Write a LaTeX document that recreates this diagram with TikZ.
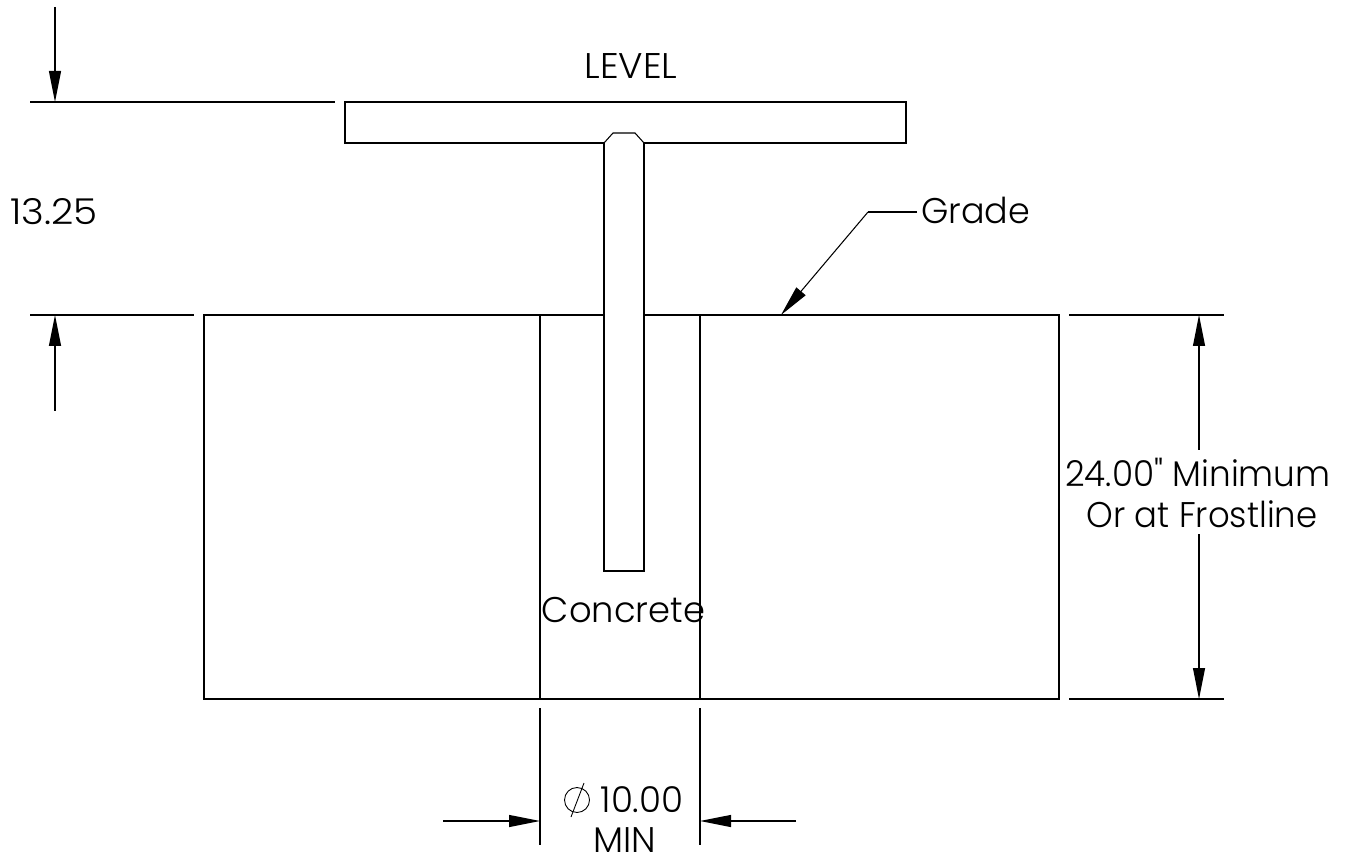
\documentclass[tikz,border=0pt]{standalone}
\usepackage{graphicx}
\usepackage{fontspec}
\setmainfont{Poppins}[UprightFont={* Light}]
\newfontfamily\plainfont{Poppins}[UprightFont={* Light}]
\usetikzlibrary{arrows.meta}
\tikzset{
  x=0.02cm,y=-0.02cm,
  edge/.style={draw=black,line width=0.6pt},
  dimline/.style={draw=black,line width=0.6pt},
  dimarrow/.style={draw=black,line width=0.6pt,-{Triangle[length=0.62cm,width=0.24cm]}},
  label/.style={inner sep=0pt,font=\fontsize{20.3}{24}\selectfont,text=black},
  diasym/.style={circle,draw=black,line width=0.5pt,minimum size=0.5cm,inner sep=0pt}
}
\begin{document}
\begin{tikzpicture}
\useasboundingbox (0,0) rectangle (1351,857);
% plate and stem
\draw[edge] (604,143) -- (345,143) -- (345,102) -- (906,102) -- (906,143) -- (644,143);
\draw[edge] (604,143) -- (613,133) -- (635,133) -- (644,143);
\draw[edge] (604,143) -- (604,571) -- (644,571) -- (644,143);
% ground
\draw[edge] (604,315) -- (204,315) -- (204,699) -- (1059,699) -- (1059,315) -- (644,315);
\draw[edge] (540,315) -- (540,699);
\draw[edge] (700,315) -- (700,699);
% dimension coordinates
\coordinate (la) at (30,102); \coordinate (lb) at (335,102);
\coordinate (ga) at (30,315); \coordinate (gb) at (194,315);
\coordinate (at) at (55,7); \coordinate (ab) at (55,102);
\coordinate (bt) at (55,411); \coordinate (bb) at (55,315);
\draw[dimline] (la) -- (lb);
\draw[dimline] (ga) -- (gb);
\draw[dimarrow] (at) -- (ab);
\draw[dimarrow] (bt) -- (bb);
\coordinate (ra) at (1069,315); \coordinate (rb) at (1224,315);
\coordinate (sa) at (1069,699); \coordinate (sb) at (1224,699);
\draw[dimline] (ra) -- (rb);
\draw[dimline] (sa) -- (sb);
\coordinate (ct) at (1199,315); \coordinate (cb) at (1199,699);
\coordinate (cu) at (1199,450); \coordinate (cl) at (1199,534);
\node[label] (dimA) at (1198,472) {\scalebox{0.96}[1]{\plainfont 24.00" Minimum}};
\node[label] (dimB) at (1202,514) {\scalebox{0.95}[1]{Or at Frostline}};
\draw[dimarrow] (cu) -- (ct);
\draw[dimarrow] (cl) -- (cb);
\coordinate (ea) at (540,708); \coordinate (eb) at (540,845);
\coordinate (fa) at (700,708); \coordinate (fb) at (700,845);
\draw[dimline] (ea) -- (eb);
\draw[dimline] (fa) -- (fb);
\coordinate (pa) at (443,821); \coordinate (pb) at (540,821);
\coordinate (qa) at (796,821); \coordinate (qb) at (700,821);
\draw[dimarrow] (pa) -- (pb);
\draw[dimarrow] (qa) -- (qb);
% labels
\node[label] (level) at (631,66) {\scalebox{1.04}[1]{LEVEL}};
\node[label] (h) at (54,212) {\scalebox{1.09}[1]{13.25}};
\node[label,anchor=west] (grade) at (921,210) {\scalebox{0.98}[1]{Grade}};
\node[label] (conc) at (623.5,610) {\scalebox{0.99}[1]{Concrete}};
\node[diasym] (dcirc) at (577,800) {};
\coordinate (sa1) at (584,783); \coordinate (sa2) at (571,817);
\draw[line width=0.5pt] (sa1) -- (sa2);
\node[label] (dia) at (642,800) {10.00};
\node[label] (min) at (625,840) {MIN};
\coordinate (gl) at (868,212); \coordinate (ge) at (917,212); \coordinate (gt) at (781,315);
\draw[dimline] (ge) -- (gl);
\draw[dimarrow] (gl) -- (gt);
\end{tikzpicture}
\end{document}
